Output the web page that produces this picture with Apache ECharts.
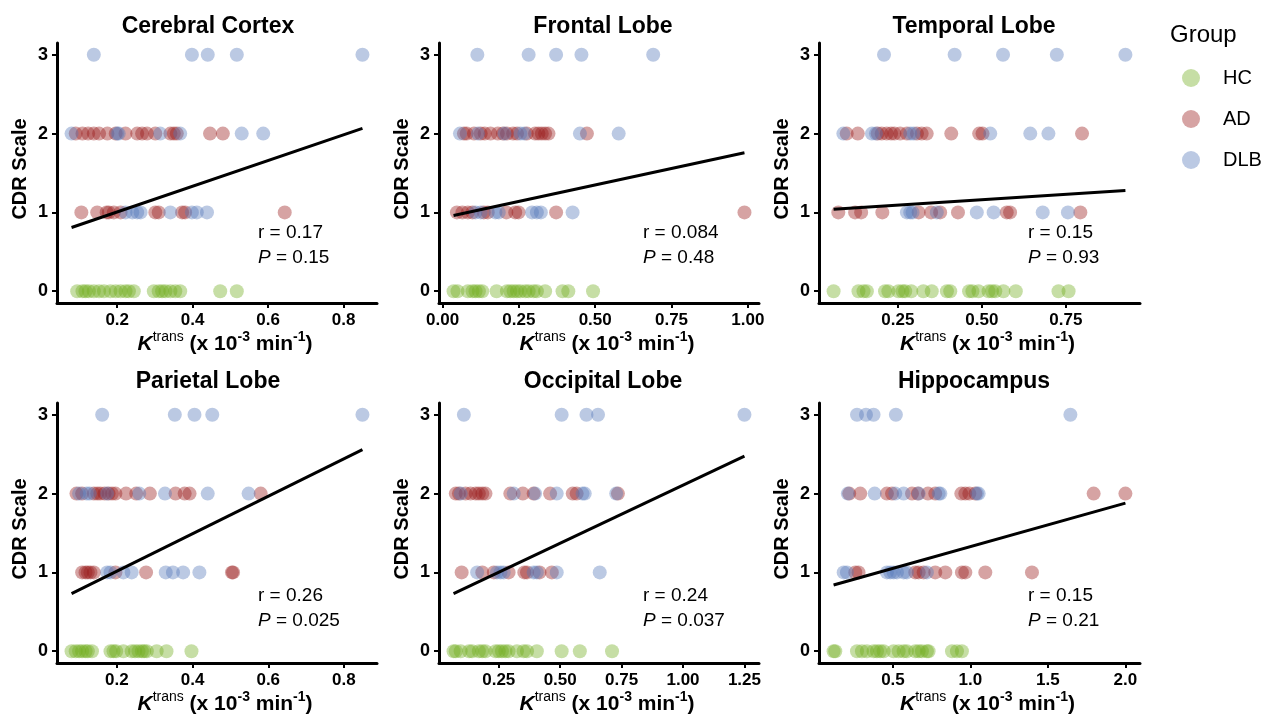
<!DOCTYPE html>
<html>
<head>
<meta charset="utf-8">
<script src="https://cdn.jsdelivr.net/npm/echarts@6/dist/echarts.min.js"></script>
<style>
  html, body { margin: 0; padding: 0; background: #ffffff; }
  #chart { width: 1264px; height: 719px; }
</style>
</head>
<body>
<div id="chart"></div>
<script>
// ---- Region names, tick labels and statistics ----
const regionTitles = ['Cerebral Cortex', 'Frontal Lobe', 'Temporal Lobe', 'Parietal Lobe', 'Occipital Lobe', 'Hippocampus'];
const xTickValues = [
  [0.2, 0.4, 0.6, 0.8],
  [0, 0.25, 0.5, 0.75, 1],
  [0.25, 0.5, 0.75],
  [0.2, 0.4, 0.6, 0.8],
  [0.25, 0.5, 0.75, 1, 1.25],
  [0.5, 1, 1.5, 2]
];
const xTickDecimals = [1, 2, 2, 1, 2, 1];
const yTickValues = [0, 1, 2, 3];
const rValues = ['0.17', '0.084', '0.15', '0.26', '0.24', '0.15'];
const pValues = ['0.15', '0.48', '0.93', '0.025', '0.037', '0.21'];
// Linear fit of CDR on Ktrans for each region: intercept and slope
const fitIntercept = [0.68, 0.93, 1.023, 0.54, 0.633, 0.775];
const fitSlope = [1.63, 0.837, 0.276, 2.376, 1.475, 0.552];

// ---- Ktrans per subject (HC are all CDR 0; AD / DLB given as [Ktrans, CDR]) ----
const cortexHC = [0.094, 0.108, 0.116, 0.125, 0.138, 0.152, 0.165, 0.182, 0.196, 0.209, 0.222, 0.231, 0.244, 0.297, 0.310, 0.319, 0.328, 0.341, 0.354, 0.367, 0.473, 0.517];
const cortexAD = [[0.090, 2], [0.108, 2], [0.123, 2], [0.138, 2], [0.152, 2], [0.174, 2], [0.196, 2], [0.222, 2], [0.253, 2], [0.266, 2], [0.279, 2], [0.301, 2], [0.341, 2], [0.350, 2], [0.358, 2], [0.446, 2], [0.480, 2],
  [0.105, 1], [0.147, 1], [0.172, 1], [0.178, 1], [0.191, 1], [0.209, 1], [0.301, 1], [0.310, 1], [0.372, 1], [0.380, 1], [0.644, 1]];
const cortexDLB = [[0.138, 3], [0.398, 3], [0.440, 3], [0.517, 3], [0.850, 3],
  [0.079, 2], [0.200, 2], [0.204, 2], [0.314, 2], [0.367, 2], [0.530, 2], [0.587, 2],
  [0.222, 1], [0.240, 1], [0.253, 1], [0.262, 1], [0.341, 1], [0.398, 1], [0.411, 1], [0.438, 1]];

const frontalHC = [0.036, 0.049, 0.083, 0.098, 0.108, 0.119, 0.130, 0.177, 0.211, 0.222, 0.233, 0.244, 0.255, 0.271, 0.282, 0.298, 0.309, 0.336, 0.393, 0.412, 0.493];
const frontalAD = [[0.070, 2], [0.079, 2], [0.103, 2], [0.125, 2], [0.138, 2], [0.157, 2], [0.181, 2], [0.198, 2], [0.211, 2], [0.231, 2], [0.244, 2], [0.276, 2], [0.303, 2], [0.314, 2], [0.325, 2], [0.336, 2], [0.347, 2], [0.473, 2],
  [0.047, 1], [0.065, 1], [0.083, 1], [0.098, 1], [0.135, 1], [0.148, 1], [0.209, 1], [0.238, 1], [0.249, 1], [0.372, 1], [0.989, 1]];
const frontalDLB = [[0.114, 3], [0.282, 3], [0.372, 3], [0.455, 3], [0.690, 3],
  [0.057, 2], [0.116, 2], [0.203, 2], [0.255, 2], [0.268, 2], [0.450, 2], [0.577, 2],
  [0.108, 1], [0.125, 1], [0.173, 1], [0.184, 1], [0.293, 1], [0.309, 1], [0.322, 1], [0.426, 1]];

const temporalHC = [0.059, 0.133, 0.148, 0.158, 0.212, 0.222, 0.252, 0.264, 0.272, 0.290, 0.326, 0.351, 0.396, 0.406, 0.462, 0.472, 0.490, 0.520, 0.530, 0.540, 0.564, 0.601, 0.728, 0.758];
const temporalAD = [[0.098, 2], [0.131, 2], [0.190, 2], [0.202, 2], [0.217, 2], [0.230, 2], [0.240, 2], [0.257, 2], [0.277, 2], [0.307, 2], [0.321, 2], [0.336, 2], [0.409, 2], [0.492, 2], [0.502, 2], [0.798, 2],
  [0.073, 1], [0.123, 1], [0.141, 1], [0.204, 1], [0.312, 1], [0.349, 1], [0.376, 1], [0.429, 1], [0.574, 1], [0.584, 1], [0.793, 1]];
const temporalDLB = [[0.209, 3], [0.419, 3], [0.563, 3], [0.723, 3], [0.927, 3],
  [0.088, 2], [0.173, 2], [0.185, 2], [0.287, 2], [0.297, 2], [0.525, 2], [0.644, 2], [0.698, 2],
  [0.277, 1], [0.287, 1], [0.294, 1], [0.366, 1], [0.485, 1], [0.535, 1], [0.681, 1], [0.756, 1]];

const parietalHC = [0.080, 0.091, 0.100, 0.108, 0.117, 0.123, 0.134, 0.183, 0.191, 0.198, 0.217, 0.239, 0.248, 0.257, 0.266, 0.272, 0.279, 0.305, 0.331, 0.397];
const parietalAD = [[0.093, 2], [0.108, 2], [0.139, 2], [0.148, 2], [0.156, 2], [0.167, 2], [0.178, 2], [0.187, 2], [0.196, 2], [0.224, 2], [0.251, 2], [0.287, 2], [0.355, 2], [0.379, 2], [0.392, 2], [0.580, 2],
  [0.108, 1], [0.117, 1], [0.123, 1], [0.130, 1], [0.139, 1], [0.196, 1], [0.277, 1], [0.504, 1], [0.507, 1]];
const parietalDLB = [[0.161, 3], [0.353, 3], [0.405, 3], [0.452, 3], [0.849, 3],
  [0.100, 2], [0.120, 2], [0.128, 2], [0.174, 2], [0.259, 2], [0.327, 2], [0.440, 2], [0.548, 2],
  [0.174, 1], [0.183, 1], [0.217, 1], [0.239, 1], [0.329, 1], [0.348, 1], [0.375, 1], [0.418, 1]];

const occipitalHC = [0.066, 0.075, 0.095, 0.129, 0.142, 0.169, 0.183, 0.196, 0.237, 0.250, 0.263, 0.277, 0.290, 0.324, 0.351, 0.365, 0.405, 0.506, 0.580, 0.711];
const occipitalAD = [[0.075, 2], [0.088, 2], [0.115, 2], [0.135, 2], [0.156, 2], [0.169, 2], [0.183, 2], [0.196, 2], [0.297, 2], [0.348, 2], [0.392, 2], [0.459, 2], [0.551, 2], [0.567, 2], [0.735, 2],
  [0.099, 1], [0.183, 1], [0.230, 1], [0.290, 1], [0.354, 1], [0.365, 1], [0.416, 1], [0.466, 1]];
const occipitalDLB = [[0.108, 3], [0.506, 3], [0.607, 3], [0.654, 3], [1.250, 3],
  [0.095, 2], [0.311, 2], [0.398, 2], [0.486, 2], [0.591, 2], [0.600, 2], [0.728, 2],
  [0.162, 1], [0.243, 1], [0.257, 1], [0.270, 1], [0.392, 1], [0.405, 1], [0.486, 1], [0.661, 1]];

const hippocampusHC = [0.117, 0.128, 0.268, 0.300, 0.332, 0.375, 0.397, 0.418, 0.440, 0.504, 0.537, 0.569, 0.590, 0.644, 0.666, 0.687, 0.719, 0.730, 0.881, 0.913, 0.945];
const hippocampusAD = [[0.218, 2], [0.289, 2], [0.461, 2], [0.494, 2], [0.623, 2], [0.661, 2], [0.726, 2], [0.773, 2], [0.941, 2], [0.967, 2], [0.993, 2], [1.032, 2], [1.795, 2], [2.000, 2],
  [0.257, 1], [0.278, 1], [0.644, 1], [0.666, 1], [0.698, 1], [0.773, 1], [0.838, 1], [0.945, 1], [0.967, 1], [1.096, 1], [1.397, 1]];
const hippocampusDLB = [[0.268, 3], [0.326, 3], [0.375, 3], [0.519, 3], [1.645, 3],
  [0.209, 2], [0.382, 2], [0.515, 2], [0.569, 2], [0.666, 2], [0.795, 2], [0.806, 2], [1.042, 2], [1.053, 2],
  [0.182, 1], [0.203, 1], [0.461, 1], [0.483, 1], [0.504, 1], [0.526, 1], [0.569, 1], [0.590, 1], [0.719, 1]];

const groupNames = ['HC', 'AD', 'DLB'];
const groupColors = ['rgba(113,172,30,0.5)', 'rgba(152,24,24,0.5)', 'rgba(84,120,186,0.5)'];

// ---- Layout ----
const FONT = '"Liberation Sans", Arial, Helvetica, sans-serif';
const COL_LEFT = [57, 439, 819];
const COL_WIDTH = [320, 320, 321];
const ROW_TOP = [43, 403];
const PANEL_H = 260;
const TITLE_X = [208, 603, 974];
const TITLE_Y = [27, 382];
const STAT_DX = [201, 204, 209];
const STAT_R_DY = [190, 193];
const STAT_P_DY = [215, 218];

const panelData = [
  [cortexHC, cortexAD, cortexDLB],
  [frontalHC, frontalAD, frontalDLB],
  [temporalHC, temporalAD, temporalDLB],
  [parietalHC, parietalAD, parietalDLB],
  [occipitalHC, occipitalAD, occipitalDLB],
  [hippocampusHC, hippocampusAD, hippocampusDLB]
];

const grids = [], xAxes = [], yAxes = [], series = [], graphics = [];

const axisLineStyle = { show: true, onZero: false, lineStyle: { color: '#000', width: 3 } };
const tickStyle = { color: '#000', width: 2 };
const labelStyle = { color: '#000', fontWeight: 'bold', fontSize: 17, fontFamily: FONT };

panelData.forEach(function (groups, i) {
  const col = i % 3, row = Math.floor(i / 3);
  const left = COL_LEFT[col], top = ROW_TOP[row];
  grids.push({ left: left, top: top, width: COL_WIDTH[col], height: PANEL_H, containLabel: false, outerBoundsMode: 'none' });

  const hcPts = groups[0].map(function (x) { return [x, 0]; });
  const allPts = hcPts.concat(groups[1], groups[2]);
  const xs = allPts.map(function (d) { return d[0]; });
  const lo = Math.min.apply(null, xs), hi = Math.max.apply(null, xs);
  const pad = 0.05 * (hi - lo);
  const dec = xTickDecimals[i];

  xAxes.push({
    gridIndex: i, type: 'value', min: lo - pad, max: hi + pad,
    axisLine: axisLineStyle,
    axisTick: { show: true, length: 5, lineStyle: tickStyle, customValues: xTickValues[i] },
    axisLabel: Object.assign({ margin: 9, customValues: xTickValues[i], formatter: function (v) { return v.toFixed(dec); } }, labelStyle),
    splitLine: { show: false },
    name: '{k|K}{s|trans}{t| (x 10}{u|-3}{t| min}{u|-1}{t|)}',
    nameLocation: 'middle', nameGap: 23,
    nameTextStyle: {
      color: '#000', fontFamily: FONT, fontWeight: 'bold', fontSize: 21, padding: [0, 0, 0, 16],
      rich: {
        k: { fontStyle: 'italic', fontWeight: 'bold', fontSize: 21, lineHeight: 28, fontFamily: FONT, color: '#000' },
        t: { fontWeight: 'bold', fontSize: 21, lineHeight: 28, fontFamily: FONT, color: '#000' },
        s: { fontWeight: 'normal', fontSize: 14, lineHeight: 16, verticalAlign: 'top', fontFamily: FONT, color: '#000' },
        u: { fontWeight: 'bold', fontSize: 14, lineHeight: 16, verticalAlign: 'top', fontFamily: FONT, color: '#000' }
      }
    }
  });

  yAxes.push({
    gridIndex: i, type: 'value', min: -0.15, max: 3.15,
    axisLine: axisLineStyle,
    axisTick: { show: true, length: 5, lineStyle: tickStyle, customValues: yTickValues },
    axisLabel: Object.assign({ margin: 9, customValues: yTickValues }, labelStyle, { fontSize: 18 }),
    splitLine: { show: false },
    name: 'CDR Scale', nameLocation: 'middle', nameGap: 27, nameRotate: 90,
    nameTextStyle: { color: '#000', fontFamily: FONT, fontWeight: 'bold', fontSize: 20, padding: [0, 0, 0, 8] }
  });

  const groupPts = [hcPts, groups[1], groups[2]];
  groupPts.forEach(function (pts, g) {
    series.push({
      type: 'scatter', name: groupNames[g], xAxisIndex: i, yAxisIndex: i,
      data: pts, symbol: 'circle', symbolSize: 14,
      itemStyle: { color: groupColors[g] }, z: 2
    });
  });

  // fitted line across the observed Ktrans range
  series.push({
    type: 'line', xAxisIndex: i, yAxisIndex: i, symbol: 'none', silent: true,
    data: [[lo, fitIntercept[i] + fitSlope[i] * lo], [hi, fitIntercept[i] + fitSlope[i] * hi]],
    lineStyle: { color: '#000', width: 3 }, z: 3
  });

  graphics.push({
    type: 'text', x: TITLE_X[col], y: TITLE_Y[row], z: 10,
    style: { text: regionTitles[i], align: 'center', verticalAlign: 'middle', fill: '#000',
      fontFamily: FONT, fontWeight: 'bold', fontSize: 23 }
  });
  graphics.push({
    type: 'text', x: left + STAT_DX[col], y: top + STAT_R_DY[row], z: 10,
    style: { text: 'r = ' + rValues[i], align: 'left', verticalAlign: 'middle', fill: '#000',
      fontFamily: FONT, fontSize: 19 }
  });
  graphics.push({
    type: 'text', x: left + STAT_DX[col], y: top + STAT_P_DY[row], z: 10,
    style: { text: '{i|P} = ' + pValues[i], align: 'left', verticalAlign: 'middle', fill: '#000',
      fontFamily: FONT, fontSize: 19,
      rich: { i: { fontStyle: 'italic', fontSize: 19, fontFamily: FONT, fill: '#000' } } }
  });
});

graphics.push({
  type: 'text', x: 1170, y: 35, z: 10,
  style: { text: 'Group', align: 'left', verticalAlign: 'middle', fill: '#000', fontFamily: FONT, fontSize: 24 }
});

const chart = echarts.init(document.getElementById('chart'), null, { renderer: 'canvas' });
chart.setOption({
  backgroundColor: '#ffffff',
  animation: false,
  grid: grids,
  xAxis: xAxes,
  yAxis: yAxes,
  series: series,
  graphic: graphics,
  legend: {
    data: groupNames, orient: 'vertical', left: 1182, top: 68, padding: 0,
    icon: 'circle', itemWidth: 18, itemHeight: 18, itemGap: 21,
    selectedMode: false,
    textStyle: { color: '#000', fontFamily: FONT, fontSize: 20, padding: [0, 0, 0, 18] }
  }
});
</script>
</body>
</html>
